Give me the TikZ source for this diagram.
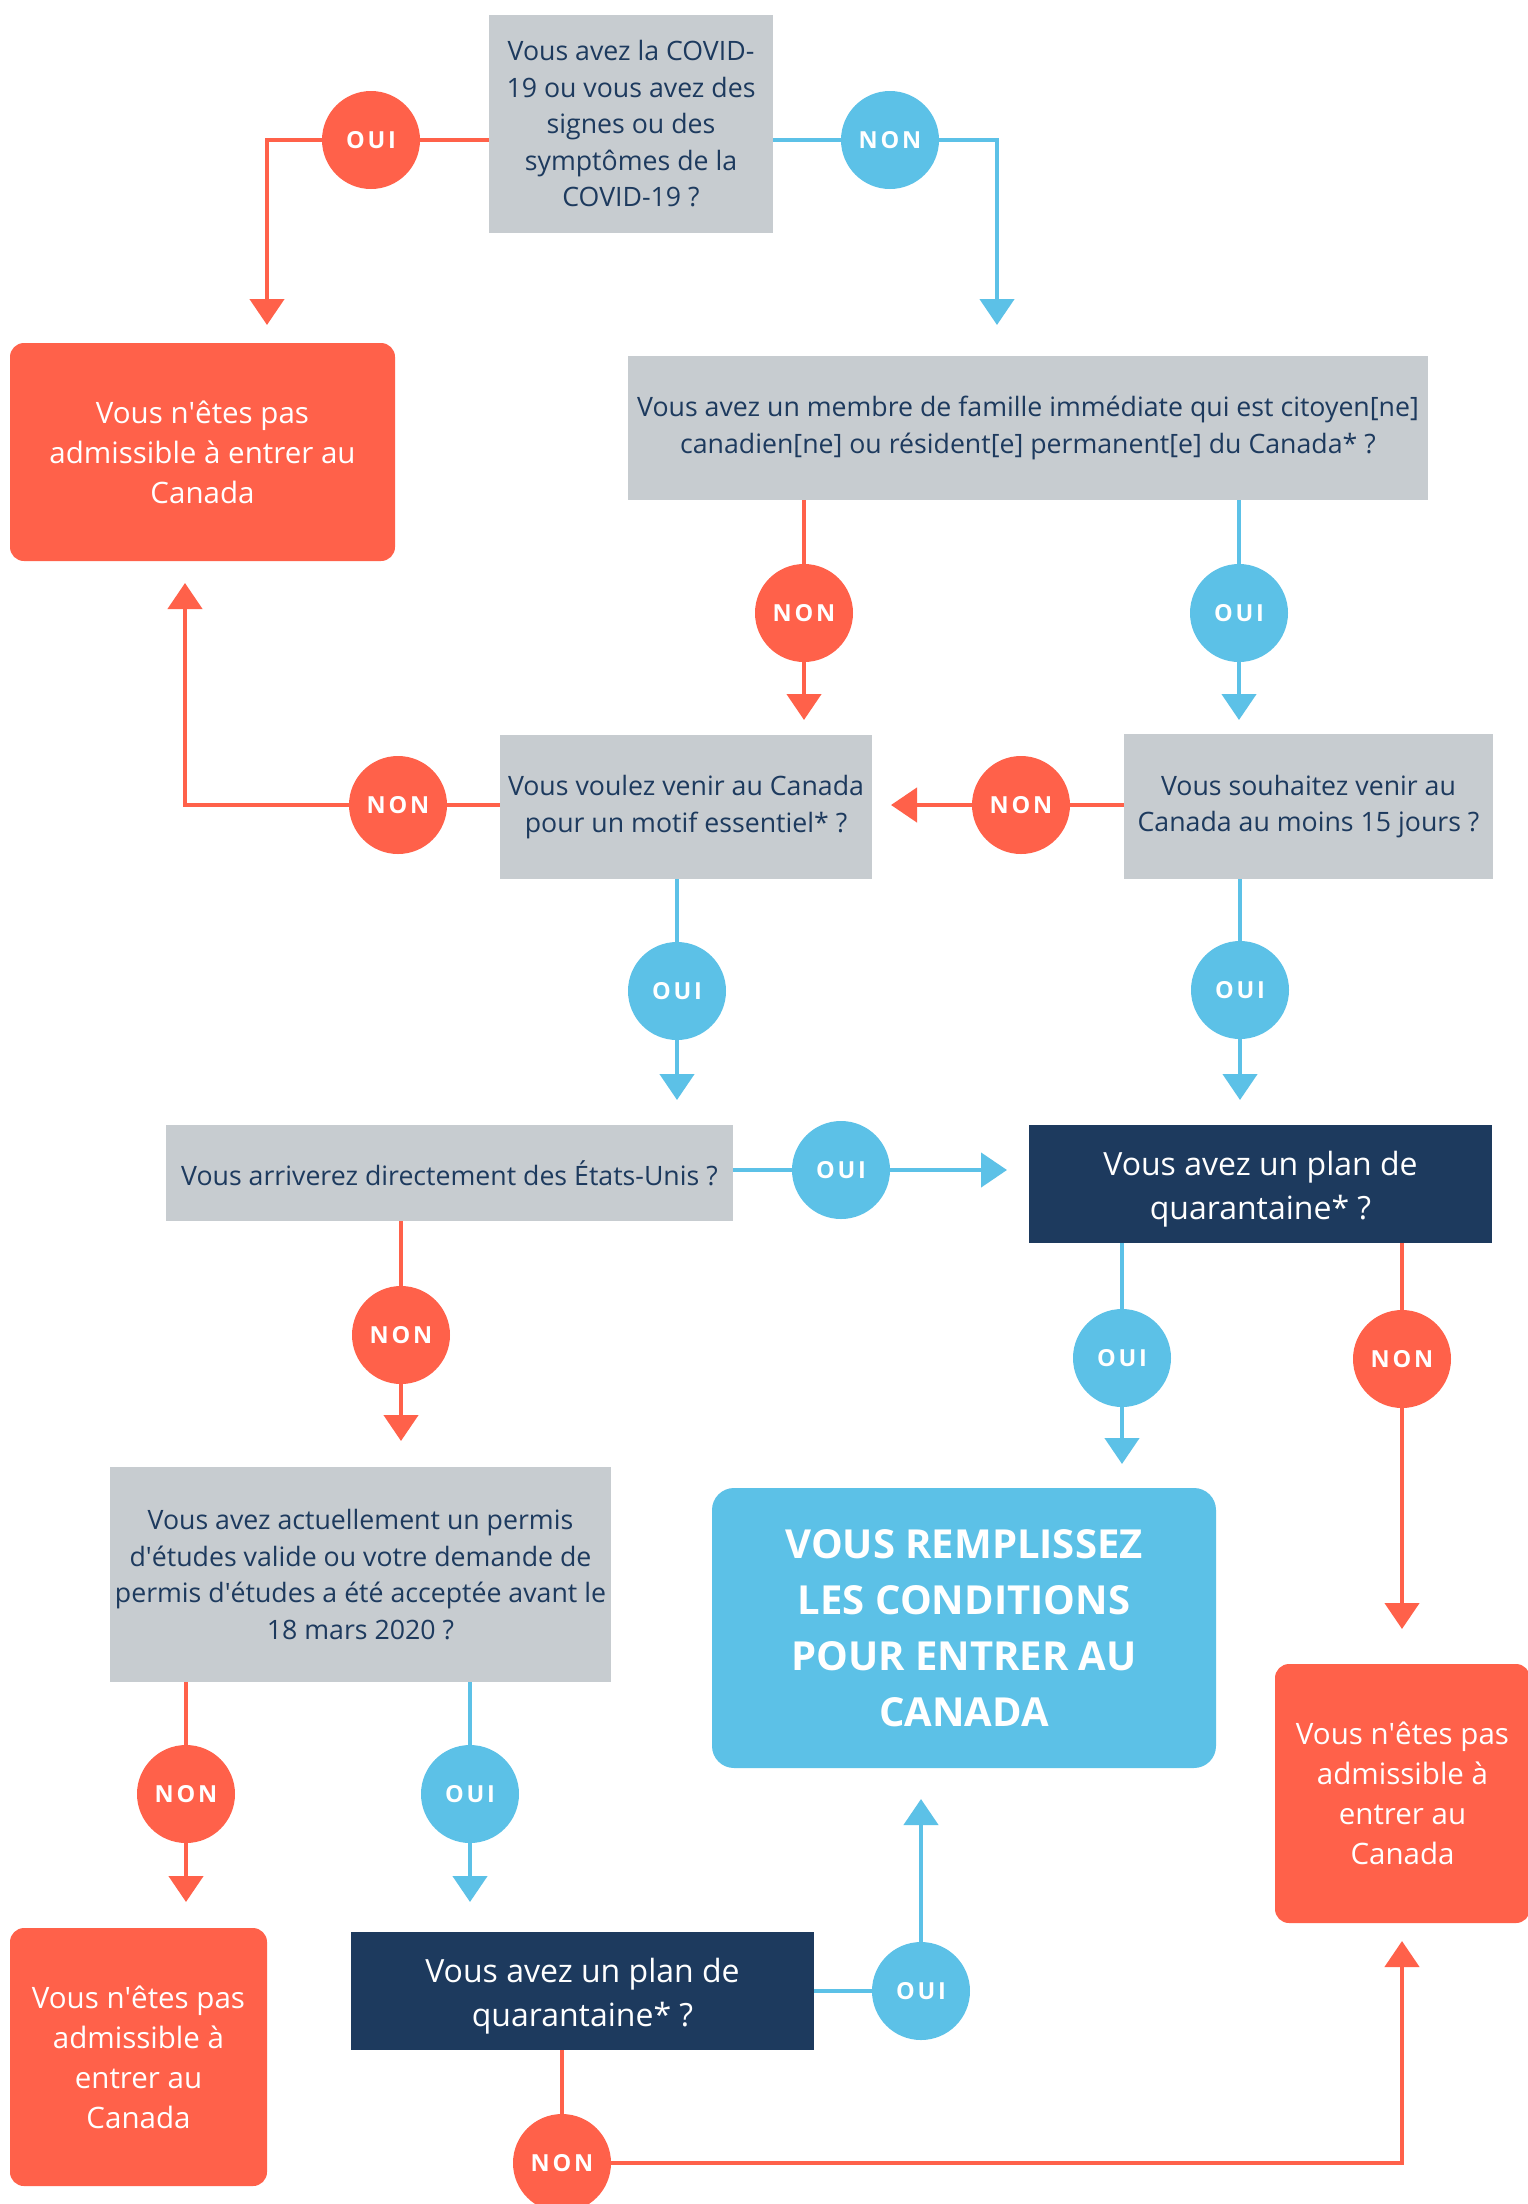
\documentclass[tikz,border=0pt]{standalone}
\usepackage{fontspec}
\setmainfont{Open Sans}
\newfontfamily\circfont[LetterSpace=12]{Open Sans}
\usetikzlibrary{arrows.meta}
\definecolor{cred}{HTML}{FF614A}
\definecolor{cblue}{HTML}{5CC1E7}
\definecolor{cgrey}{HTML}{C7CCD0}
\definecolor{cnavy}{HTML}{1D3A5E}
\pgfdeclarelayer{bg}
\pgfsetlayers{bg,main}
\newcommand{\apo}{\textquotesingle}
\begin{document}
\begin{tikzpicture}[x=1pt,y=-1pt,
  box/.style={inner sep=0pt, align=center},
  gbox/.style={box, fill=cgrey, text=cnavy, font=\fontsize{26.7}{36.5}\selectfont},
  dbox/.style={box, fill=cnavy},
  dtext/.style={box, text=white, font=\fontsize{32}{44}\selectfont},
  rbox/.style={box, fill=cred, text=white, rounded corners=14pt, font=\fontsize{29.5}{40}\selectfont},
  okbox/.style={box, fill=cblue, text=white, rounded corners=22pt, font=\bfseries\fontsize{40}{56}\selectfont},
  circ/.style={circle, inner sep=0pt, minimum size=98pt, text=white, font=\circfont\bfseries\fontsize{23.5}{23.5}\selectfont},
  rc/.style={circ, fill=cred},
  bc/.style={circ, fill=cblue},
  rl/.style={draw=cred, line width=4.5pt, -{Triangle[length=26pt,width=34pt]}},
  bl/.style={draw=cblue, line width=4.5pt, -{Triangle[length=26pt,width=34pt]}}
]
\useasboundingbox (0,0) rectangle (1528,2204);

% boxes
\node[gbox, minimum width=284pt, minimum height=218pt] (q1) at (631,124)
  {Vous avez la COVID-\\19 ou vous avez des\\signes ou des\\symptômes de la\\COVID-19 ?};
\node[rbox, minimum width=385pt, minimum height=218pt] (n1) at (202.5,452)
  {Vous n\apo êtes pas\\admissible à entrer au\\Canada};
\node[gbox, minimum width=800pt, minimum height=144pt] (q2) at (1028,428)
  {Vous avez un membre de famille immédiate qui est citoyen[ne]\\canadien[ne] ou résident[e] permanent[e] du Canada* ?};
\node[gbox, minimum width=372pt, minimum height=144pt] (q3) at (686,807)
  {Vous voulez venir au Canada\\pour un motif essentiel* ?};
\node[gbox, minimum width=369pt, minimum height=145pt] (q4) at (1308.5,806.5)
  {Vous souhaitez venir au\\Canada au moins 15 jours ?};
\node[gbox, minimum width=567pt, minimum height=96pt] (q5) at (449.5,1173)
  {Vous arriverez directement des États-Unis ?};
\node[dbox, minimum width=463pt, minimum height=118pt] (d1) at (1260.5,1184) {};
\node[dtext] (d1t) at ([yshift=-5pt]d1.center) {Vous avez un plan de\\quarantaine* ?};
\node[gbox, minimum width=501pt, minimum height=215pt] (q6) at (360.5,1574.5)
  {Vous avez actuellement un permis\\d\apo études valide ou votre demande de\\permis d\apo études a été acceptée avant le\\18 mars 2020 ?};
\node[okbox, minimum width=504pt, minimum height=280pt] (ok) at (964,1628)
  {VOUS REMPLISSEZ\\LES CONDITIONS\\POUR ENTRER AU\\CANADA};
\node[rbox, minimum width=255pt, minimum height=259pt] (n2) at (1402.5,1793.5)
  {Vous n\apo êtes pas\\admissible à\\entrer au\\Canada};
\node[rbox, minimum width=257pt, minimum height=258pt] (n3) at (138.5,2057)
  {Vous n\apo êtes pas\\admissible à\\entrer au\\Canada};
\node[dbox, minimum width=463pt, minimum height=118pt] (d2) at (582.5,1991) {};
\node[dtext] (d2t) at ([yshift=-5pt]d2.center) {Vous avez un plan de\\quarantaine* ?};

% circles
\node[rc] (oui1) at (371,140) {OUI};
\node[bc] (non1) at (890,140) {NON};
\node[rc] (non2) at (804,613) {NON};
\node[bc] (oui2) at (1239,613) {OUI};
\node[rc] (non3) at (1021,805) {NON};
\node[rc] (non4) at (398,805) {NON};
\node[bc] (oui3) at (677,991) {OUI};
\node[bc] (oui4) at (1240,990) {OUI};
\node[bc] (oui5) at (841,1170) {OUI};
\node[rc] (non5) at (401,1335) {NON};
\node[bc] (oui6) at (1122,1358) {OUI};
\node[rc] (non6) at (1402,1359) {NON};
\node[rc] (non7) at (186,1794) {NON};
\node[bc] (oui7) at (470,1794) {OUI};
\node[bc] (oui8) at (921,1991) {OUI};
\node[rc] (non8) at (562,2163) {NON};

% arrow tips
\coordinate (t1) at (267,325);
\coordinate (t2) at (997,325);
\coordinate (t3) at (804,720);
\coordinate (t4) at (1239,720);
\coordinate (t5) at (891,805);
\coordinate (t6) at (185,583);
\coordinate (t7) at (677,1100);
\coordinate (t8) at (1240,1100);
\coordinate (t9) at (1007,1170);
\coordinate (t10) at (401,1441);
\coordinate (t11) at (1122,1464);
\coordinate (t12) at (1402,1629);
\coordinate (t13) at (186,1902);
\coordinate (t14) at (470,1902);
\coordinate (t15) at (921,1799);
\coordinate (t16) at (1402,1941);

\begin{pgfonlayer}{bg}
\fill[white] (0,0) rectangle (1528,2204);
\draw[rl] (q1.west |- oui1) -- (oui1.center) -| (t1);
\draw[bl] (q1.east |- non1) -- (non1.center) -| (t2);
\draw[rl] (non2 |- q2.south) -- (t3);
\draw[bl] (oui2 |- q2.south) -- (t4);
\draw[rl] (q4.west |- non3) -- (t5);
\draw[rl] (q3.west |- non4) -- (non4.center) -| (t6);
\draw[bl] (oui3 |- q3.south) -- (t7);
\draw[bl] (oui4 |- q4.south) -- (t8);
\draw[bl] (q5.east |- oui5) -- (t9);
\draw[rl] (non5 |- q5.south) -- (t10);
\draw[bl] (oui6 |- d1.south) -- (t11);
\draw[rl] (non6 |- d1.south) -- (t12);
\draw[rl] (non7 |- q6.south) -- (t13);
\draw[bl] (oui7 |- q6.south) -- (t14);
\draw[bl] (d2.east |- oui8) -- (oui8.center) -- (t15);
\draw[rl] (non8 |- d2.south) -- (non8.center) -| (t16);
\end{pgfonlayer}
\end{tikzpicture}
\end{document}
